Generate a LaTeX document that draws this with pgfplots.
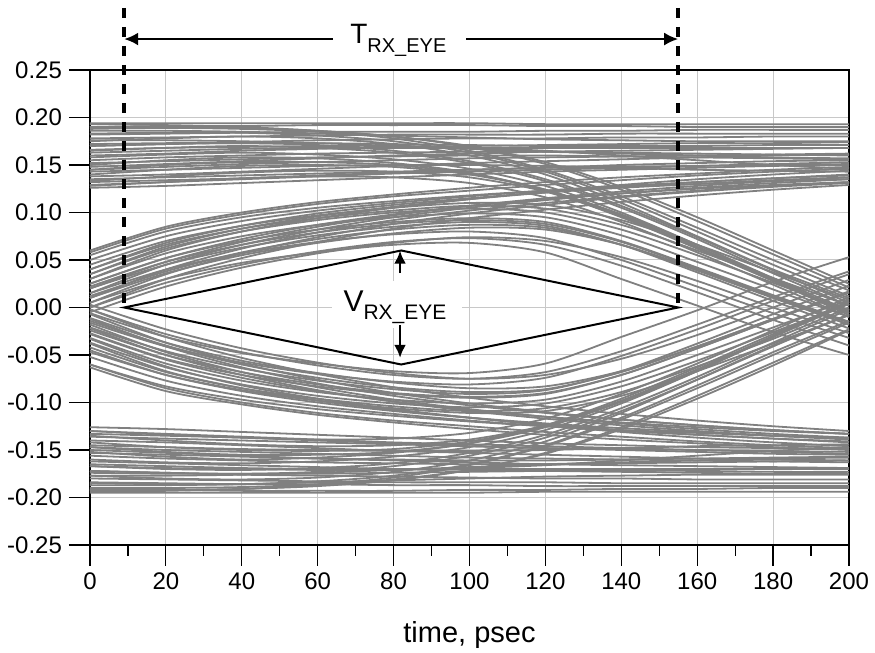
\documentclass[border=0pt]{standalone}
\usepackage{fontspec}
\setmainfont{Liberation Sans}
\usepackage{pgfplots}
\pgfplotsset{compat=1.18}
\usepackage{pgfplotstable}
\usetikzlibrary{arrows.meta}
\definecolor{trace}{RGB}{128,128,128}
\definecolor{gridc}{RGB}{200,200,200}

% steady high
\pgfplotstableread{
x a1 a2 a3 a4 a5 a6 a7 a8 a9 a10 a11 a12 a13
0 0.190 0.182 0.170 0.160 0.148 0.138 0.132 0.186 0.176 0.155 0.143 0.166 0.126
20 0.191 0.183 0.172 0.162 0.151 0.140 0.134 0.186 0.176 0.158 0.145 0.168 0.128
40 0.191 0.184 0.174 0.165 0.154 0.143 0.136 0.185 0.175 0.160 0.147 0.169 0.131
60 0.192 0.185 0.176 0.167 0.157 0.146 0.139 0.183 0.173 0.162 0.149 0.170 0.134
80 0.192 0.185 0.177 0.169 0.160 0.149 0.142 0.181 0.170 0.163 0.150 0.170 0.137
100 0.192 0.185 0.178 0.170 0.162 0.152 0.145 0.179 0.167 0.164 0.150 0.168 0.140
120 0.191 0.186 0.178 0.171 0.164 0.154 0.147 0.177 0.164 0.164 0.149 0.165 0.143
140 0.191 0.186 0.179 0.172 0.165 0.156 0.150 0.176 0.162 0.163 0.147 0.160 0.145
160 0.190 0.187 0.179 0.173 0.166 0.158 0.152 0.175 0.160 0.162 0.145 0.155 0.147
180 0.190 0.187 0.180 0.173 0.167 0.160 0.154 0.175 0.158 0.161 0.144 0.150 0.149
200 0.190 0.187 0.180 0.174 0.168 0.161 0.155 0.175 0.157 0.160 0.143 0.146 0.150
}\tabA
\pgfplotstableread{
x a1 a2 a3 a4 a5 a6 a7 a8
0 0.194 0.178 0.163 0.152 0.135 0.145 0.172 0.129
20 0.194 0.179 0.165 0.154 0.137 0.148 0.173 0.132
40 0.194 0.180 0.167 0.156 0.139 0.151 0.173 0.135
60 0.194 0.181 0.168 0.158 0.141 0.153 0.173 0.138
80 0.194 0.182 0.168 0.159 0.143 0.155 0.172 0.141
100 0.194 0.182 0.168 0.160 0.145 0.157 0.171 0.143
120 0.193 0.182 0.168 0.160 0.147 0.158 0.170 0.145
140 0.193 0.183 0.168 0.159 0.148 0.159 0.170 0.147
160 0.193 0.183 0.168 0.158 0.149 0.160 0.170 0.149
180 0.193 0.183 0.168 0.157 0.150 0.161 0.171 0.151
200 0.193 0.183 0.168 0.156 0.151 0.162 0.171 0.153
}\tabAA
% rising, stays high
\pgfplotstableread{
x b1 b2 b3 b4 b5 b6 b7 b8
0 0.055 0.040 0.025 0.010 0.030 0.000 0.060 0.015
20 0.080 0.068 0.052 0.040 0.060 0.030 0.085 0.045
40 0.095 0.086 0.072 0.062 0.080 0.052 0.100 0.066
60 0.105 0.099 0.087 0.079 0.094 0.069 0.111 0.082
80 0.112 0.108 0.098 0.092 0.105 0.083 0.119 0.095
100 0.118 0.115 0.107 0.102 0.114 0.094 0.126 0.105
120 0.123 0.121 0.114 0.110 0.122 0.103 0.132 0.113
140 0.127 0.126 0.120 0.117 0.129 0.111 0.137 0.120
160 0.130 0.130 0.125 0.123 0.135 0.118 0.141 0.126
180 0.133 0.134 0.129 0.128 0.140 0.124 0.145 0.131
200 0.135 0.137 0.132 0.132 0.144 0.129 0.148 0.135
}\tabB
\pgfplotstableread{
x b1 b2 b3 b4 b5
0 0.050 0.035 0.020 0.005 0.058
20 0.075 0.064 0.048 0.035 0.083
40 0.091 0.083 0.069 0.057 0.098
60 0.102 0.096 0.085 0.074 0.109
80 0.110 0.106 0.097 0.088 0.117
100 0.117 0.114 0.107 0.099 0.123
120 0.123 0.121 0.115 0.108 0.129
140 0.128 0.127 0.122 0.116 0.134
160 0.132 0.132 0.128 0.122 0.139
180 0.136 0.136 0.133 0.127 0.143
200 0.139 0.140 0.137 0.131 0.146
}\tabBB
% high, then falling
\pgfplotstableread{
x c1 c2 c3 c4 c5 c6 c7 c8
0 0.175 0.150 0.188 0.128 0.165 0.140 0.193 0.158
20 0.178 0.155 0.189 0.132 0.168 0.145 0.192 0.161
40 0.180 0.158 0.188 0.136 0.170 0.149 0.190 0.163
60 0.178 0.157 0.185 0.138 0.168 0.150 0.186 0.161
80 0.172 0.152 0.178 0.137 0.163 0.148 0.180 0.156
100 0.160 0.142 0.165 0.131 0.152 0.140 0.170 0.146
120 0.140 0.123 0.145 0.116 0.133 0.124 0.153 0.128
140 0.110 0.095 0.117 0.090 0.105 0.098 0.127 0.100
160 0.075 0.062 0.084 0.058 0.072 0.066 0.095 0.066
180 0.040 0.028 0.050 0.024 0.036 0.031 0.060 0.030
200 0.010 -0.005 0.018 -0.010 0.002 -0.003 0.025 -0.006
}\tabC
\pgfplotstableread{
x c1 c2 c3 c4 c5
0 0.183 0.170 0.145 0.133 0.190
20 0.184 0.172 0.150 0.138 0.190
40 0.184 0.173 0.153 0.142 0.189
60 0.181 0.171 0.153 0.144 0.186
80 0.175 0.165 0.150 0.143 0.180
100 0.163 0.154 0.141 0.137 0.169
120 0.143 0.135 0.124 0.122 0.151
140 0.114 0.107 0.097 0.096 0.124
160 0.080 0.074 0.064 0.063 0.091
180 0.045 0.039 0.029 0.028 0.056
200 0.012 0.005 -0.006 -0.008 0.021
}\tabCC
% rising, then falling
\pgfplotstableread{
x d1 d2 d3 d4 d5 d6 d7 d8
0 0.005 0.015 0.025 -0.005 0.035 0.010 0.045 0.020
20 0.030 0.040 0.052 0.022 0.062 0.036 0.070 0.045
40 0.047 0.057 0.070 0.042 0.080 0.055 0.086 0.063
60 0.058 0.069 0.082 0.057 0.092 0.068 0.097 0.076
80 0.066 0.077 0.090 0.068 0.100 0.078 0.105 0.085
100 0.068 0.080 0.094 0.074 0.104 0.084 0.110 0.090
120 0.058 0.073 0.090 0.070 0.100 0.082 0.108 0.086
140 0.030 0.050 0.070 0.053 0.082 0.066 0.092 0.066
160 0.002 0.022 0.042 0.028 0.055 0.040 0.066 0.037
180 -0.026 -0.006 0.013 0.000 0.026 0.012 0.037 0.007
200 -0.050 -0.032 -0.015 -0.027 -0.003 -0.016 0.008 -0.022
}\tabD
\pgfplotstableread{
x d1 d2 d3 d4 d5
0 0.000 0.030 0.012 0.040 0.022
20 0.026 0.057 0.038 0.066 0.048
40 0.045 0.075 0.058 0.083 0.066
60 0.059 0.087 0.072 0.094 0.079
80 0.069 0.095 0.082 0.102 0.088
100 0.073 0.099 0.087 0.107 0.092
120 0.066 0.095 0.084 0.104 0.088
140 0.044 0.076 0.066 0.087 0.069
160 0.016 0.048 0.039 0.060 0.041
180 -0.013 0.019 0.010 0.031 0.011
200 -0.040 -0.010 -0.018 0.002 -0.018
}\tabDD
% steady low
\pgfplotstableread{
x e1 e2 e3 e4 e5 e6 e7 e8 e9 e10 e11 e12 e13
0 -0.192 -0.184 -0.172 -0.162 -0.150 -0.140 -0.133 -0.187 -0.177 -0.156 -0.145 -0.167 -0.126
20 -0.192 -0.185 -0.174 -0.164 -0.153 -0.142 -0.135 -0.187 -0.177 -0.159 -0.147 -0.169 -0.128
40 -0.193 -0.186 -0.176 -0.166 -0.156 -0.145 -0.137 -0.186 -0.176 -0.161 -0.149 -0.170 -0.131
60 -0.193 -0.186 -0.177 -0.168 -0.159 -0.148 -0.140 -0.184 -0.174 -0.163 -0.150 -0.171 -0.134
80 -0.193 -0.187 -0.178 -0.170 -0.161 -0.151 -0.143 -0.182 -0.171 -0.164 -0.151 -0.171 -0.137
100 -0.192 -0.187 -0.179 -0.171 -0.163 -0.153 -0.146 -0.180 -0.168 -0.165 -0.151 -0.169 -0.140
120 -0.192 -0.188 -0.180 -0.172 -0.165 -0.155 -0.148 -0.178 -0.165 -0.165 -0.150 -0.166 -0.143
140 -0.191 -0.188 -0.180 -0.173 -0.166 -0.157 -0.150 -0.177 -0.163 -0.164 -0.148 -0.161 -0.145
160 -0.191 -0.188 -0.181 -0.174 -0.167 -0.159 -0.152 -0.176 -0.161 -0.163 -0.146 -0.156 -0.147
180 -0.190 -0.188 -0.181 -0.175 -0.168 -0.160 -0.154 -0.176 -0.159 -0.162 -0.145 -0.151 -0.148
200 -0.190 -0.188 -0.181 -0.175 -0.169 -0.161 -0.155 -0.176 -0.158 -0.161 -0.144 -0.147 -0.149
}\tabE
\pgfplotstableread{
x e1 e2 e3 e4 e5 e6 e7 e8
0 -0.195 -0.180 -0.165 -0.153 -0.136 -0.147 -0.174 -0.130
20 -0.195 -0.181 -0.167 -0.155 -0.138 -0.150 -0.175 -0.133
40 -0.195 -0.182 -0.169 -0.157 -0.140 -0.152 -0.175 -0.136
60 -0.195 -0.183 -0.170 -0.159 -0.142 -0.154 -0.175 -0.139
80 -0.195 -0.184 -0.170 -0.160 -0.144 -0.156 -0.174 -0.142
100 -0.195 -0.184 -0.170 -0.161 -0.146 -0.158 -0.173 -0.144
120 -0.194 -0.184 -0.170 -0.161 -0.148 -0.159 -0.172 -0.146
140 -0.194 -0.185 -0.170 -0.160 -0.149 -0.160 -0.172 -0.148
160 -0.194 -0.185 -0.170 -0.159 -0.150 -0.161 -0.172 -0.150
180 -0.194 -0.185 -0.170 -0.158 -0.151 -0.162 -0.173 -0.152
200 -0.194 -0.185 -0.170 -0.157 -0.152 -0.163 -0.173 -0.154
}\tabEE
% falling, stays low
\pgfplotstableread{
x f1 f2 f3 f4 f5 f6 f7 f8
0 -0.060 -0.045 -0.028 -0.012 -0.033 -0.002 -0.063 -0.018
20 -0.083 -0.071 -0.055 -0.041 -0.062 -0.031 -0.088 -0.047
40 -0.097 -0.088 -0.074 -0.063 -0.082 -0.053 -0.102 -0.068
60 -0.107 -0.100 -0.088 -0.080 -0.096 -0.070 -0.113 -0.084
80 -0.114 -0.109 -0.099 -0.093 -0.107 -0.084 -0.121 -0.097
100 -0.120 -0.116 -0.108 -0.103 -0.116 -0.095 -0.128 -0.107
120 -0.125 -0.122 -0.115 -0.111 -0.124 -0.104 -0.134 -0.115
140 -0.129 -0.127 -0.121 -0.118 -0.131 -0.112 -0.139 -0.122
160 -0.132 -0.131 -0.126 -0.124 -0.137 -0.119 -0.143 -0.128
180 -0.135 -0.135 -0.130 -0.129 -0.142 -0.125 -0.147 -0.133
200 -0.137 -0.138 -0.133 -0.133 -0.146 -0.130 -0.150 -0.137
}\tabF
\pgfplotstableread{
x f1 f2 f3 f4 f5
0 -0.052 -0.038 -0.022 -0.007 -0.060
20 -0.077 -0.067 -0.050 -0.037 -0.085
40 -0.093 -0.085 -0.071 -0.059 -0.100
60 -0.104 -0.098 -0.087 -0.076 -0.111
80 -0.112 -0.108 -0.099 -0.090 -0.119
100 -0.119 -0.116 -0.109 -0.101 -0.125
120 -0.125 -0.123 -0.117 -0.110 -0.131
140 -0.130 -0.129 -0.124 -0.118 -0.136
160 -0.134 -0.134 -0.130 -0.124 -0.141
180 -0.138 -0.138 -0.135 -0.129 -0.145
200 -0.141 -0.142 -0.139 -0.133 -0.148
}\tabFF
% low, then rising
\pgfplotstableread{
x g1 g2 g3 g4 g5 g6 g7 g8
0 -0.177 -0.152 -0.190 -0.130 -0.167 -0.142 -0.194 -0.160
20 -0.180 -0.157 -0.190 -0.134 -0.170 -0.147 -0.193 -0.163
40 -0.181 -0.160 -0.189 -0.137 -0.171 -0.150 -0.191 -0.164
60 -0.179 -0.158 -0.186 -0.139 -0.169 -0.151 -0.187 -0.162
80 -0.173 -0.153 -0.179 -0.138 -0.164 -0.149 -0.181 -0.157
100 -0.161 -0.143 -0.166 -0.132 -0.153 -0.141 -0.171 -0.147
120 -0.141 -0.124 -0.146 -0.117 -0.134 -0.125 -0.154 -0.129
140 -0.111 -0.096 -0.118 -0.091 -0.106 -0.099 -0.128 -0.101
160 -0.076 -0.063 -0.085 -0.059 -0.073 -0.067 -0.096 -0.067
180 -0.040 -0.028 -0.050 -0.024 -0.037 -0.031 -0.061 -0.030
200 -0.008 0.006 -0.016 0.011 -0.002 0.004 -0.024 0.007
}\tabG
\pgfplotstableread{
x g1 g2 g3 g4 g5
0 -0.185 -0.172 -0.147 -0.135 -0.192
20 -0.186 -0.174 -0.152 -0.140 -0.192
40 -0.186 -0.175 -0.155 -0.144 -0.191
60 -0.183 -0.173 -0.155 -0.146 -0.188
80 -0.177 -0.167 -0.152 -0.145 -0.182
100 -0.165 -0.156 -0.143 -0.139 -0.171
120 -0.145 -0.137 -0.126 -0.124 -0.153
140 -0.116 -0.109 -0.099 -0.098 -0.126
160 -0.082 -0.076 -0.066 -0.065 -0.093
180 -0.047 -0.041 -0.031 -0.030 -0.058
200 -0.014 -0.007 0.004 0.006 -0.023
}\tabGG
% falling, then rising
\pgfplotstableread{
x h1 h2 h3 h4 h5 h6 h7 h8
0 -0.006 -0.016 -0.027 0.003 -0.037 -0.011 -0.047 -0.021
20 -0.031 -0.041 -0.054 -0.023 -0.063 -0.037 -0.071 -0.046
40 -0.048 -0.058 -0.071 -0.043 -0.081 -0.056 -0.087 -0.064
60 -0.059 -0.070 -0.083 -0.058 -0.093 -0.069 -0.098 -0.077
80 -0.067 -0.078 -0.091 -0.069 -0.101 -0.079 -0.106 -0.086
100 -0.069 -0.081 -0.095 -0.075 -0.105 -0.085 -0.111 -0.091
120 -0.059 -0.074 -0.091 -0.071 -0.101 -0.083 -0.109 -0.087
140 -0.031 -0.051 -0.071 -0.054 -0.083 -0.067 -0.093 -0.067
160 -0.003 -0.023 -0.043 -0.029 -0.056 -0.041 -0.067 -0.038
180 0.027 0.007 -0.013 0.000 -0.026 -0.012 -0.038 -0.007
200 0.053 0.035 0.016 0.029 0.004 0.017 -0.008 0.023
}\tabH
\pgfplotstableread{
x h1 h2 h3 h4 h5
0 -0.002 -0.032 -0.014 -0.042 -0.024
20 -0.028 -0.059 -0.040 -0.068 -0.050
40 -0.047 -0.077 -0.060 -0.085 -0.068
60 -0.061 -0.089 -0.074 -0.096 -0.081
80 -0.071 -0.097 -0.084 -0.104 -0.090
100 -0.075 -0.101 -0.089 -0.109 -0.094
120 -0.068 -0.097 -0.086 -0.106 -0.090
140 -0.046 -0.078 -0.068 -0.089 -0.071
160 -0.018 -0.050 -0.041 -0.062 -0.043
180 0.011 -0.021 -0.012 -0.033 -0.013
200 0.038 0.008 0.016 0.000 0.016
}\tabHH

\begin{document}
\begin{tikzpicture}[x=1pt,y=1pt]
\useasboundingbox (-45,-54) rectangle (392.5,272.5);
\begin{axis}[
  at={(0,0)}, anchor=south west,
  width=379.5pt, height=237.5pt, scale only axis,
  xmin=0, xmax=200, ymin=-0.25, ymax=0.25,
  clip=false,
  xtick={0,20,...,200},
  ytick={-0.25,-0.2,-0.15,-0.1,-0.05,0,0.05,0.1,0.15,0.2,0.25},
  minor x tick num=1,
  xtick pos=left, ytick pos=left,
  tick align=outside,
  major tick length=10.5pt, minor tick length=5.5pt,
  tick style={black, line width=0.6pt},
  axis line style={black, line width=0.6pt},
  grid=major,
  major grid style={gridc, line width=0.5pt},
  tick label style={font=\fontsize{12}{14}\selectfont},
  /pgf/number format/assume math mode=true,
  yticklabel style={/pgf/number format/.cd, fixed, fixed zerofill, precision=2},
  xticklabel style={/pgf/number format/.cd, fixed, precision=0},
  tr/.style={trace, line width=0.9pt, smooth, tension=0.5, forget plot},
]
\pgfplotsinvokeforeach{1,...,13}{\addplot[tr] table[x=x,y=a#1]{\tabA};}
\pgfplotsinvokeforeach{1,...,8}{\addplot[tr] table[x=x,y=a#1]{\tabAA};}
\pgfplotsinvokeforeach{1,...,8}{\addplot[tr] table[x=x,y=b#1]{\tabB};}
\pgfplotsinvokeforeach{1,...,5}{\addplot[tr] table[x=x,y=b#1]{\tabBB};}
\pgfplotsinvokeforeach{1,...,8}{\addplot[tr] table[x=x,y=c#1]{\tabC};}
\pgfplotsinvokeforeach{1,...,5}{\addplot[tr] table[x=x,y=c#1]{\tabCC};}
\pgfplotsinvokeforeach{1,...,8}{\addplot[tr] table[x=x,y=d#1]{\tabD};}
\pgfplotsinvokeforeach{1,...,5}{\addplot[tr] table[x=x,y=d#1]{\tabDD};}
\pgfplotsinvokeforeach{1,...,13}{\addplot[tr] table[x=x,y=e#1]{\tabE};}
\pgfplotsinvokeforeach{1,...,8}{\addplot[tr] table[x=x,y=e#1]{\tabEE};}
\pgfplotsinvokeforeach{1,...,8}{\addplot[tr] table[x=x,y=f#1]{\tabF};}
\pgfplotsinvokeforeach{1,...,5}{\addplot[tr] table[x=x,y=f#1]{\tabFF};}
\pgfplotsinvokeforeach{1,...,8}{\addplot[tr] table[x=x,y=g#1]{\tabG};}
\pgfplotsinvokeforeach{1,...,5}{\addplot[tr] table[x=x,y=g#1]{\tabGG};}
\pgfplotsinvokeforeach{1,...,8}{\addplot[tr] table[x=x,y=h#1]{\tabH};}
\pgfplotsinvokeforeach{1,...,5}{\addplot[tr] table[x=x,y=h#1]{\tabHH};}

% label background
\fill[white] (axis cs:63.8,0.028) rectangle (axis cs:98,-0.022);
% eye mask
\draw[black, line width=1pt] (axis cs:9,0) -- (axis cs:82,0.06) -- (axis cs:155,0) -- (axis cs:82,-0.06) -- cycle;
% dashed markers
\draw[black, line width=2pt, dash pattern=on 5pt off 4.5pt] (axis cs:9,0.3153) -- (axis cs:9,0);
\draw[black, line width=2pt, dash pattern=on 5pt off 4.5pt] (axis cs:155,0.3153) -- (axis cs:155,0);
% T arrows
\draw[black, line width=1.2pt, -{Latex[length=7pt,width=6.5pt]}] (axis cs:64,0.2826) -- (axis cs:9,0.2826);
\draw[black, line width=1.2pt, -{Latex[length=7pt,width=6.5pt]}] (axis cs:99.1,0.2826) -- (axis cs:155,0.2826);
\node[anchor=base west, inner sep=0pt] at (axis cs:68.5,0.2784)
  {\fontsize{14}{14}\selectfont T\raisebox{-4.5pt}{\fontsize{10}{10}\selectfont RX\textunderscore EYE}};
% V arrows
\draw[black, line width=1.2pt, -{Latex[length=6.5pt,width=6pt]}] (axis cs:81.7,0.0363) -- (axis cs:81.7,0.0598);
\draw[black, line width=1.2pt, -{Latex[length=6.5pt,width=6pt]}] (axis cs:81.7,-0.0184) -- (axis cs:81.7,-0.053);
\node[anchor=base west, inner sep=0pt] at (axis cs:66.7,-0.0047)
  {\fontsize{15}{15}\selectfont V\raisebox{-4pt}{\fontsize{10.5}{10.5}\selectfont RX\textunderscore EYE}};
% x label
\node[anchor=base, inner sep=0pt, font=\fontsize{14.5}{16}\selectfont] at (rel axis cs:0.5,0) [yshift=-49pt] {time, psec};
\end{axis}
\end{tikzpicture}
\end{document}
